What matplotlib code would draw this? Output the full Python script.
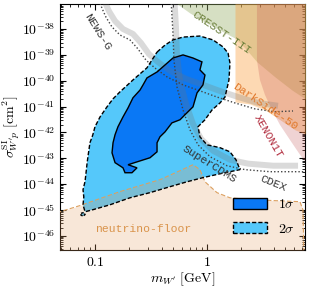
import matplotlib
matplotlib.use("Agg")
import matplotlib.pyplot as plt
import matplotlib.transforms as mtransforms
import numpy as np
from matplotlib.ticker import LogLocator, NullFormatter

plt.rcParams["mathtext.fontset"] = "cm"
plt.rcParams["font.family"] = "serif"
plt.rcParams["font.serif"] = ["DejaVu Serif"]

# all values are log10(m / GeV) and log10(sigma / cm^2)
sigma2_logm = [-0.446, -0.375, -0.304, -0.214, -0.063, 0.054, 0.143, 0.188, 0.205, 0.196,
               0.161, 0.116, 0.045, -0.018, -0.080, -0.063, 0.0, 0.116, 0.205, 0.259,
               0.295, 0.205, 0.116, -0.036, -0.179, -0.330, -0.509, -0.688, -0.866, -1.018,
               -1.089, -1.107, -1.100, -1.107, -1.089, -1.080, -1.071, -1.063, -1.045, -1.020,
               -1.000, -0.955, -0.893, -0.839, -0.777, -0.661, -0.536]
sigma2_logs = [-38.89, -38.62, -38.42, -38.31, -38.27, -38.42, -38.69, -38.93, -39.31, -39.97,
               -40.63, -40.86, -41.13, -41.51, -41.78, -42.17, -42.48, -42.59, -42.75, -43.06,
               -43.44, -43.52, -43.60, -43.75, -43.91, -44.10, -44.33, -44.53, -44.80, -44.99,
               -45.07, -44.80, -44.50, -44.22, -43.90, -43.56, -43.20, -42.94, -42.40, -42.10,
               -41.78, -41.40, -41.01, -40.70, -40.43, -39.97, -39.50]

# small detached 2 sigma island at the lower left
island_logm = [-1.125, -1.100, -1.089, -1.107, -1.125]
island_logs = [-45.13, -45.10, -45.18, -45.24, -45.20]

sigma1_logm = [-0.304, -0.214, -0.125, -0.045, -0.063, -0.018, -0.036, -0.089, -0.125, -0.179,
               -0.241, -0.313, -0.375, -0.420, -0.446, -0.446, -0.509, -0.625, -0.705, -0.625,
               -0.670, -0.732, -0.750, -0.821, -0.848, -0.839, -0.821, -0.795, -0.750, -0.705,
               -0.661, -0.598, -0.571, -0.536, -0.446, -0.375]
sigma1_logs = [-39.12, -39.00, -39.12, -39.27, -39.58, -39.78, -40.16, -40.47, -41.01, -41.24,
               -41.51, -41.63, -41.98, -42.17, -42.40, -42.75, -42.98, -43.14, -43.25, -43.37,
               -43.56, -43.56, -43.37, -43.17, -42.79, -42.40, -42.09, -41.78, -41.40, -41.05,
               -40.66, -40.36, -40.16, -39.89, -39.66, -39.39]

floor_logm = [-1.40, -1.313, -1.134, -0.955, -0.777, -0.598, -0.420, -0.241, -0.125, -0.063,
              -0.018, 0.089, 0.205, 0.384, 0.830, 0.857, 0.866]
floor_logs = [-45.10, -45.07, -44.83, -44.56, -44.29, -44.06, -43.83, -43.48, -43.25, -43.44,
              -43.91, -44.33, -44.53, -44.60, -44.68, -45.00, -46.80]

newsg_logm = [-0.964, -0.938, -0.902, -0.848, -0.777, -0.688, -0.616, -0.545, -0.464, -0.357,
              -0.214, -0.063, 0.089, 0.250, 0.429, 0.607, 0.768]
newsg_logs = [-36.88, -37.19, -37.54, -37.92, -38.23, -38.42, -38.77, -39.20, -39.51, -39.85,
              -40.16, -40.39, -40.63, -40.86, -41.09, -41.20, -41.17]

supercdms_logm = [-0.321, -0.313, -0.304, -0.295, -0.268, -0.214, -0.152, -0.080, 0.027, 0.179,
                  0.339, 0.563, 0.786, 0.920]
supercdms_logs = [-36.88, -37.46, -38.15, -39.20, -40.24, -41.13, -41.90, -42.48, -42.94, -43.29,
                  -43.44, -43.52, -43.52, -43.52]

cresst_logm = [-0.313, -0.152, -0.018, 0.116, 0.250, 0.339, 0.446, 0.607, 0.759, 0.920]
cresst_logs = [-36.88, -37.38, -37.73, -38.04, -38.35, -38.73, -39.27, -39.85, -40.36, -40.82]

darkside_logm = [0.250, 0.250, 0.384, 0.518, 0.652, 0.786, 0.920]
darkside_logs = [-36.80, -40.82, -40.90, -41.13, -41.51, -41.90, -42.13]

xenon_logm = [0.446, 0.446, 0.473, 0.518, 0.580, 0.652, 0.741, 0.830, 0.920]
xenon_logs = [-36.80, -39.20, -39.97, -40.55, -41.13, -41.71, -42.29, -42.86, -43.37]

top = 1e-36

fig = plt.figure(figsize=(3.12, 2.88), dpi=100)
ax = fig.add_axes([60 / 312, 38 / 288, 245 / 312, 246 / 288])
ax.set_xscale("log")
ax.set_yscale("log")

m2, s2 = 10.0 ** np.array(sigma2_logm), 10.0 ** np.array(sigma2_logs)
mi, si = 10.0 ** np.array(island_logm), 10.0 ** np.array(island_logs)
m1, s1 = 10.0 ** np.array(sigma1_logm), 10.0 ** np.array(sigma1_logs)

ax.fill(m2, s2, color="#55c8fa", zorder=1, lw=0)
ax.fill(mi, si, color="#55c8fa", zorder=1, lw=0)
ax.fill(m1, s1, color="#0a78f5", zorder=2, lw=0)

# neutrino floor
mf, sf = 10.0 ** np.array(floor_logm), 10.0 ** np.array(floor_logs)
ax.fill_between(mf, sf, 1e-48, color="#e6a064", alpha=0.25, lw=0, zorder=3)
ax.plot(mf, sf, ls=(0, (4, 2)), color="#dca060", lw=0.8, zorder=3)

# excluded regions
mc, sc = 10.0 ** np.array(cresst_logm), 10.0 ** np.array(cresst_logs)
ax.fill_between(mc, sc, top, color="#99b16b", alpha=0.4, lw=0, zorder=3)
md, sd = 10.0 ** np.array(darkside_logm), 10.0 ** np.array(darkside_logs)
ax.fill_between(md, sd, top, color="#faa041", alpha=0.4, lw=0, zorder=3)
mx, sx = 10.0 ** np.array(xenon_logm), 10.0 ** np.array(xenon_logs)
ax.fill(np.r_[mx, 20, 20], np.r_[sx, sx[-1], top], color="#c04848", alpha=0.24, lw=0, zorder=3)

# limit curves: shaded band plus dotted line
band = mtransforms.offset_copy(ax.transData, fig=fig, x=3, y=6, units="dots")
for lm, ls_ in [(newsg_logm, newsg_logs), (supercdms_logm, supercdms_logs)]:
    mm, ss = 10.0 ** np.array(lm), 10.0 ** np.array(ls_)
    ax.plot(mm[:-1], ss[:-1], color="0.45", alpha=0.26, lw=4.3,
            solid_capstyle="butt", transform=band, zorder=4)
    ax.plot(mm, ss, color="#444444", lw=1.0, ls=(0, (1, 1.5)), zorder=5)

# contour outlines
ax.fill(m2, s2, facecolor="none", edgecolor="black", ls=(0, (3, 1.5)), lw=1.0, zorder=6)
ax.fill(mi, si, facecolor="none", edgecolor="black", ls=(0, (2, 1)), lw=1.0, zorder=6)
ax.fill(m1, s1, facecolor="none", edgecolor="black", lw=1.0, zorder=6)

mono = ["Liberation Mono", "DejaVu Sans Mono"]
labels = [
    ("NEWS-G", -0.973, -38.12, -58, "#333333"),
    ("CRESST-III", 0.134, -38.15, -34, "#6b7f3a"),
    ("DarkSide-50", 0.515, -41.02, -34, "#e0782a"),
    ("XENON1T", 0.545, -42.17, -60, "#b0283a"),
    ("SuperCDMS", 0.018, -43.21, -32, "#333333"),
    ("CDEX", 0.589, -43.98, -22, "#333333"),
    ("neutrino-floor", -0.571, -45.72, 0, "#d9934a"),
]
for text, lm, ls_, rot, col in labels:
    ax.text(10 ** lm, 10 ** ls_, text, family=mono, fontsize=8.2, color=col, rotation=rot,
            rotation_mode="anchor", ha="center", va="center", zorder=7)

h1 = ax.fill([], [], facecolor="#0a78f5", edgecolor="black", lw=1.0)[0]
h2 = ax.fill([], [], facecolor="#55c8fa", edgecolor="black", lw=1.0, ls=(0, (3, 1.5)))[0]
ax.legend([h1, h2], [r"$1\sigma$", r"$2\sigma$"], loc="upper left",
          bbox_to_anchor=(0.706, 0.215), frameon=False, borderpad=0, borderaxespad=0,
          handlelength=2.45, handleheight=0.85, labelspacing=0.75, handletextpad=0.8,
          fontsize=10)

ax.set_xlim(0.0487, 7.5)
ax.set_ylim(10 ** -46.55, 10 ** -37.03)

yexp = np.arange(-46, -37)
ax.set_yticks(10.0 ** yexp, [r"$10^{%d}$" % e for e in yexp])
ax.set_xticks([0.1, 1], [r"$0.1$", r"$1$"])
for axis in (ax.xaxis, ax.yaxis):
    axis.set_minor_locator(LogLocator(base=10, subs=np.arange(2, 10), numticks=100))
    axis.set_minor_formatter(NullFormatter())
ax.tick_params(which="both", direction="in", top=True, right=True, labelsize=10)
ax.tick_params(which="major", length=4.5, width=0.8)
ax.tick_params(which="minor", length=2.5, width=0.6)

ax.set_xlabel(r"$m_{W'}\ [\mathrm{GeV}]$", fontsize=10, labelpad=1)
ax.set_ylabel(r"$\sigma^{\rm SI}_{W'p}\ [\mathrm{cm}^2]$", fontsize=10, labelpad=0)

fig.savefig("out.png", dpi=100)
